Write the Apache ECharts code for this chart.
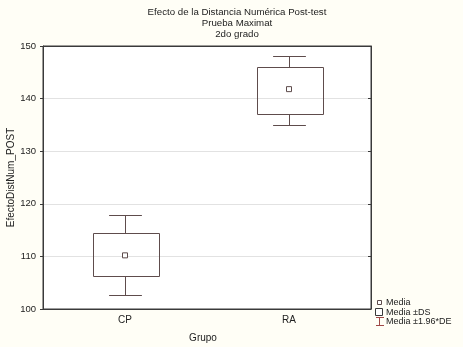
<!DOCTYPE html>
<html>
<head>
<meta charset="utf-8">
<script src="https://cdn.jsdelivr.net/npm/echarts@6/dist/echarts.min.js"></script>
<style>
  html, body { margin: 0; padding: 0; background: #fffef6; }
  #chart { width: 463px; height: 347px; }
</style>
</head>
<body>
<div id="chart"></div>
<script>
  const categories = ["CP", "RA"];
  const means = [110.2, 141.8];
  const sdLow = [106.2, 137.0];
  const sdHigh = [114.4, 146.0];
  const ciLow = [102.7, 134.9];
  const ciHigh = [117.9, 148.1];
  const yTicks = [100, 150, 10];

  const lineColor = "#5e4c4c";
  const font = "Liberation Sans, Arial, sans-serif";

  let chart = echarts.init(document.getElementById("chart"));

  let boxData = categories.map(function (c, i) {
    return [i, ciLow[i], sdLow[i], sdHigh[i], ciHigh[i]];
  });

  function renderBox(params, api) {
    let idx = api.value(0);
    let w = api.size([1, 0])[0];
    let boxW = w * 0.4;
    let capW = w * 0.2;
    let pLo = api.coord([idx, api.value(1)]);
    let pQ1 = api.coord([idx, api.value(2)]);
    let pQ3 = api.coord([idx, api.value(3)]);
    let pHi = api.coord([idx, api.value(4)]);
    let x = Math.round(pLo[0]) + 0.5;
    let style = { stroke: lineColor, lineWidth: 1, fill: null };
    return {
      type: "group",
      children: [
        { type: "rect", shape: { x: Math.round(x - boxW / 2) + 0.5, y: Math.round(pQ3[1]) + 0.5, width: Math.round(boxW), height: Math.round(pQ1[1] - pQ3[1]) }, style: style },
        { type: "line", shape: { x1: x, y1: Math.round(pQ3[1]) + 0.5, x2: x, y2: Math.round(pHi[1]) + 0.5 }, style: style },
        { type: "line", shape: { x1: x, y1: Math.round(pQ1[1]) + 0.5, x2: x, y2: Math.round(pLo[1]) + 0.5 }, style: style },
        { type: "line", shape: { x1: x - capW / 2, y1: Math.round(pHi[1]) + 0.5, x2: x + capW / 2, y2: Math.round(pHi[1]) + 0.5 }, style: style },
        { type: "line", shape: { x1: x - capW / 2, y1: Math.round(pLo[1]) + 0.5, x2: x + capW / 2, y2: Math.round(pLo[1]) + 0.5 }, style: style },
      ],
    };
  }

  let option = {
    backgroundColor: "#fffef6",
    animation: false,
    title: {
      text: "Efecto de la Distancia Numérica Post-test\nPrueba Maximat\n2do grado",
      left: 232,
      textAlign: "center",
      top: 2,
      textStyle: { fontFamily: font, fontSize: 9.7, fontWeight: "normal", color: "#222", lineHeight: 11 },
    },
    grid: {
      left: 43,
      right: 92,
      top: 46,
      bottom: 38,
      outerBoundsMode: "none",
      containLabel: false,
      show: true,
      backgroundColor: "#ffffff",
      borderColor: "#3a3a3a",
      borderWidth: 1,
    },
    xAxis: [
      {
        type: "category",
        data: categories,
        boundaryGap: true,
        name: "Grupo",
        nameLocation: "middle",
        nameGap: 24,
        nameMoveOverlap: false,
        nameTextStyle: { fontFamily: font, fontSize: 10, color: "#222", padding: [0, 8, 0, 0] },
        axisLine: { lineStyle: { color: "#3a3a3a" } },
        axisTick: { alignWithLabel: true, length: 3, lineStyle: { color: "#3a3a3a" } },
        axisLabel: { fontFamily: font, fontSize: 10, color: "#222", margin: 6 },
      },
      {
        type: "category",
        data: categories,
        position: "top",
        boundaryGap: true,
        axisLine: { lineStyle: { color: "#3a3a3a" } },
        axisTick: { alignWithLabel: true, inside: true, length: 3, lineStyle: { color: "#3a3a3a" } },
        axisLabel: { show: false },
      },
    ],
    yAxis: [
      {
        type: "value",
        min: yTicks[0],
        max: yTicks[1],
        interval: yTicks[2],
        name: "EfectoDistNum_POST",
        nameLocation: "middle",
        nameGap: 27,
        nameMoveOverlap: false,
        nameTextStyle: { fontFamily: font, fontSize: 10, color: "#222" },
        axisLine: { show: true, lineStyle: { color: "#3a3a3a" } },
        axisTick: { show: true, length: 3, lineStyle: { color: "#3a3a3a" } },
        axisLabel: { fontFamily: font, fontSize: 9.5, color: "#222", margin: 7 },
        splitLine: { show: true, lineStyle: { color: "#e2e2e2", width: 1 } },
      },
      {
        type: "value",
        min: yTicks[0],
        max: yTicks[1],
        interval: yTicks[2],
        position: "right",
        axisLine: { show: true, lineStyle: { color: "#3a3a3a" } },
        axisTick: { show: true, inside: true, length: 3, lineStyle: { color: "#3a3a3a" } },
        axisLabel: { show: false },
        splitLine: { show: false },
      },
    ],
    series: [
      {
        name: "Media ±DS",
        type: "custom",
        renderItem: renderBox,
        encode: { x: 0, y: [1, 2, 3, 4] },
        data: boxData,
        z: 2,
      },
      {
        name: "Media",
        type: "scatter",
        symbol: "rect",
        symbolSize: 5,
        itemStyle: { color: "#ffffff", borderColor: lineColor, borderWidth: 1, opacity: 1 },
        data: means.map(function (m, i) { return [i, m]; }),
        z: 3,
      },
    ],
    graphic: [
      { type: "rect", shape: { x: 377.5, y: 300.5, width: 4, height: 4 }, style: { fill: "#fff", stroke: lineColor, lineWidth: 1 } },
      { type: "rect", shape: { x: 375.5, y: 308.5, width: 7, height: 7 }, style: { fill: "#fff", stroke: "#3a3a3a", lineWidth: 1 } },
      { type: "polyline", shape: { points: [[376, 317.5], [384, 317.5]] }, style: { stroke: "#a04848", lineWidth: 1 } },
      { type: "polyline", shape: { points: [[379.5, 317.5], [379.5, 325.5]] }, style: { stroke: "#a04848", lineWidth: 1 } },
      { type: "polyline", shape: { points: [[376, 325.5], [384, 325.5]] }, style: { stroke: "#a04848", lineWidth: 1 } },
      { type: "text", x: 386, y: 303, style: { text: "Media", font: "9px " + font, fill: "#222", textVerticalAlign: "middle" } },
      { type: "text", x: 386, y: 312.5, style: { text: "Media ±DS", font: "9px " + font, fill: "#222", textVerticalAlign: "middle" } },
      { type: "text", x: 386, y: 322, style: { text: "Media ±1.96*DE", font: "9px " + font, fill: "#222", textVerticalAlign: "middle" } },
    ],
  };

  option && chart.setOption(option);
</script>
</body>
</html>
